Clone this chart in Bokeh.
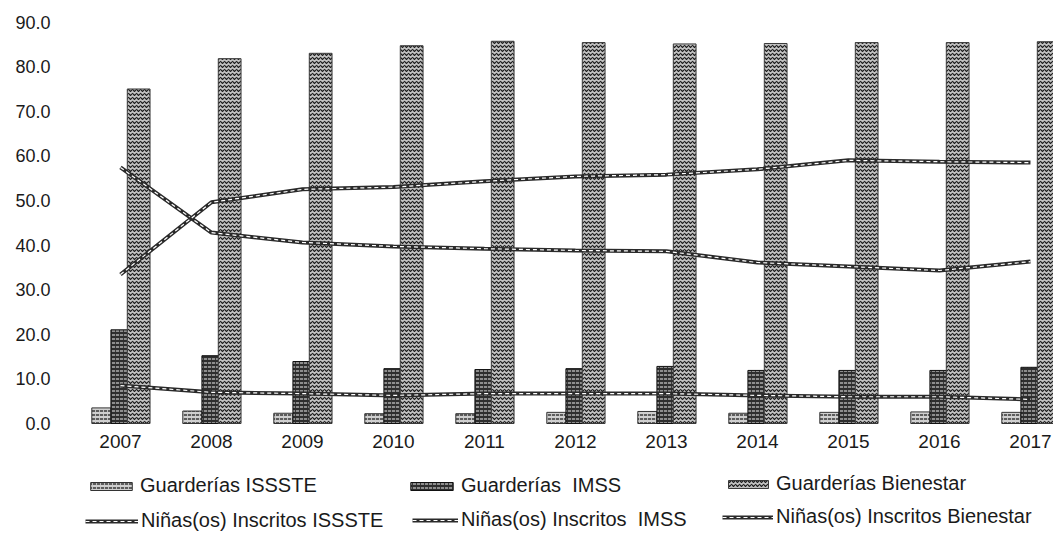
from bokeh.plotting import figure
from bokeh.layouts import column
from bokeh.models import (Range1d, FixedTicker, Legend, LegendItem,
                          PrintfTickFormatter, ColumnDataSource)
from bokeh.transform import dodge
from bokeh.embed import file_html
from bokeh.resources import INLINE

years = ["2007", "2008", "2009", "2010", "2011", "2012",
         "2013", "2014", "2015", "2016", "2017"]

guarderias_issste = [3.5, 2.8, 2.3, 2.2, 2.2, 2.5, 2.7, 2.3, 2.5, 2.6, 2.5]
guarderias_imss = [21.0, 15.2, 13.9, 12.3, 12.1, 12.3, 12.8, 11.9, 11.9, 11.9, 12.6]
guarderias_bienestar = [75.0, 81.8, 83.0, 84.7, 85.7, 85.4, 85.1, 85.2, 85.4, 85.4, 85.6]

ninos_issste = [8.5, 7.0, 6.7, 6.3, 6.7, 6.7, 6.7, 6.3, 6.0, 6.0, 5.4]
ninos_imss = [57.4, 42.8, 40.6, 39.7, 39.2, 38.8, 38.6, 36.1, 35.2, 34.3, 36.3]
ninos_bienestar = [33.4, 49.6, 52.5, 53.0, 54.3, 55.4, 55.8, 57.0, 59.0, 58.7, 58.5]

y_ticks = [0, 10, 20, 30, 40, 50, 60, 70, 80, 90]

xs = list(range(len(years)))
src = ColumnDataSource(dict(
    x=xs, issste=guarderias_issste, imss=guarderias_imss,
    bien=guarderias_bienestar,
    n_issste=ninos_issste, n_imss=ninos_imss, n_bien=ninos_bienestar))

FONT = "Liberation Sans"
TXT = "#1a1a1a"
W = 1053

BAR_STYLES = {
    "issste": dict(fill_color="#cfcfcf", line_color="#333333", line_width=1,
                   hatch_pattern="horizontal_dash", hatch_color="#1e1e1e",
                   hatch_scale=4, hatch_weight=1.3),
    "imss": dict(fill_color="#2e2e2e", line_color="#111111", line_width=1,
                 hatch_pattern="horizontal_dash", hatch_color="#cfcfcf",
                 hatch_scale=4, hatch_weight=1.2),
    "bien": dict(fill_color="#c2c2c2", line_color="#3a3a3a", line_width=1,
                 hatch_pattern="horizontal_wave", hatch_color="#1e1e1e",
                 hatch_scale=4, hatch_weight=1.2),
}


def draw_all(fig):
    rb1 = fig.vbar(x=dodge("x", -0.21, range=fig.x_range), top="issste",
                   bottom=0, width=0.21, source=src, **BAR_STYLES["issste"])
    rb2 = fig.vbar(x="x", top="imss", bottom=0, width=0.21, source=src,
                   **BAR_STYLES["imss"])
    rb3 = fig.vbar(x=dodge("x", 0.2, range=fig.x_range), top="bien",
                   bottom=0, width=0.25, source=src, **BAR_STYLES["bien"])

    def dline(col):
        a = fig.line("x", col, source=src, line_color="#2a2a2a", line_width=4)
        b = fig.line("x", col, source=src, line_color="white", line_width=1.2,
                     line_dash="4 3")
        return [a, b]

    return rb1, rb2, rb3, dline("n_issste"), dline("n_imss"), dline("n_bien")


# ---- main chart ----
p = figure(width=W, height=468, output_backend="svg", toolbar_location=None,
           x_range=Range1d(-0.659, 10.253), y_range=Range1d(-1.12, 92.15),
           min_border_left=60, min_border_right=0, min_border_top=12,
           min_border_bottom=40)
p.background_fill_color = "white"
p.border_fill_color = "white"
p.outline_line_color = None
p.grid.visible = False
draw_all(p)

p.xaxis.ticker = FixedTicker(ticks=xs)
p.xaxis.major_label_overrides = {i: y for i, y in enumerate(years)}
p.yaxis.ticker = FixedTicker(ticks=y_ticks)
p.yaxis.formatter = PrintfTickFormatter(format="%.1f")
for ax in (p.xaxis[0], p.yaxis[0]):
    ax.axis_line_color = None
    ax.major_tick_line_color = None
    ax.minor_tick_line_color = None
    ax.major_tick_out = 0
    ax.major_tick_in = 0
    ax.major_label_text_font = FONT
    ax.major_label_text_color = TXT
p.xaxis.major_label_text_font_size = "19px"
p.xaxis.major_label_standoff = 6
p.yaxis.major_label_text_font_size = "18px"
p.yaxis.major_label_standoff = 10

# ---- legend strip ----
pl = figure(width=W, height=66, output_backend="svg", toolbar_location=None,
            x_range=Range1d(100, 101), y_range=Range1d(100, 101),
            x_axis_type=None, y_axis_type=None, min_border=0,
            min_border_left=60)
pl.outline_line_color = None
pl.grid.visible = False
pl.background_fill_color = "white"
pl.border_fill_color = "white"
lb1, lb2, lb3, ll1, ll2, ll3 = draw_all(pl)


def add_leg(label, rends, loc, gw=50):
    leg = Legend(items=[LegendItem(label=label, renderers=rends)],
                 location=loc, orientation="horizontal",
                 background_fill_alpha=0, border_line_color=None,
                 padding=0, margin=0, spacing=0,
                 label_text_font=FONT, label_text_font_size="20px",
                 label_text_color=TXT, glyph_width=gw, glyph_height=10,
                 label_height=20, label_standoff=3)
    pl.add_layout(leg, "center")


add_leg("Guarderías ISSSTE", [lb1], (25, 37), gw=52)
add_leg("Guarderías  IMSS", [lb2], (345, 37), gw=53)
add_leg("Guarderías Bienestar", [lb3], (663, 39), gw=50)
add_leg("Niñas(os) Inscritos ISSSTE", ll1, (25, 2), gw=53)
add_leg("Niñas(os) Inscritos  IMSS", ll2, (352, 3), gw=46)
add_leg("Niñas(os) Inscritos Bienestar", ll3, (662, 6), gw=51)

layout = column(p, pl, spacing=0)
open("out.html", "w").write(file_html(layout, INLINE))
